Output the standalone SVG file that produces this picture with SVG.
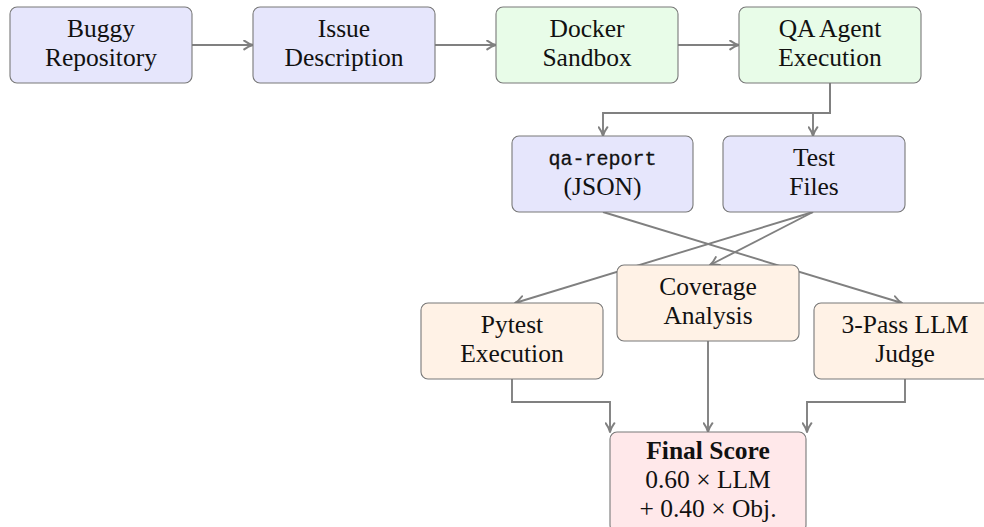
<svg xmlns="http://www.w3.org/2000/svg" width="984" height="527" viewBox="0 0 984 527">
  <style>
    .box { stroke: #787878; stroke-width: 1.1; }
    .blue { fill: #e6e6fc; }
    .green { fill: #e8fce8; }
    .orange { fill: #fff2e6; }
    .red { fill: #ffe8ea; }
    .lbl { font-family: "Liberation Serif", "Times New Roman", serif; font-size: 25.5px; fill: #111; text-anchor: middle; }
    .mono { font-family: "Liberation Mono", "Courier New", monospace; font-size: 20px; stroke: #111; stroke-width: 0.3; }
    .bold { font-weight: bold; }
    .conn { fill: none; stroke: #808080; stroke-width: 1.9; }
  </style>
  <defs>
    <marker id="arrow" viewBox="0 0 10 10" refX="9" refY="5" markerWidth="11" markerHeight="11" markerUnits="userSpaceOnUse" orient="auto">
      <path d="M1,1 Q5,4 9,5 Q5,6 1,9" fill="none" stroke="#808080" stroke-width="1.8" stroke-linecap="round" stroke-linejoin="round"/>
    </marker>
  </defs>

  <!-- connectors -->
  <g id="connectors" class="conn" marker-end="url(#arrow)">
    <path d="M192,45 H253"/>
    <path d="M435,45 H496"/>
    <path d="M678,45 H739"/>
    <path d="M830,83 V113 H603 V136"/>
    <path d="M830,83 V113 H813 V136"/>
    <path d="M603,212 L902,303"/>
    <path d="M813,212 L515,303"/>
    <path d="M813,212 L710,265"/>
    <path d="M512,379 V402 H610 V432"/>
    <path d="M708,341 V432"/>
    <path d="M905,379 V402 H807 V432"/>
  </g>

  <!-- pipeline inputs -->
  <g id="buggy-repo">
    <rect class="box blue" x="10" y="7" width="182" height="76" rx="7"/>
    <text class="lbl" x="101" y="37">Buggy</text>
    <text class="lbl" x="101" y="66">Repository</text>
  </g>
  <g id="issue-desc">
    <rect class="box blue" x="253" y="7" width="182" height="76" rx="7"/>
    <text class="lbl" x="344" y="37">Issue</text>
    <text class="lbl" x="344" y="66">Description</text>
  </g>
  <g id="docker">
    <rect class="box green" x="496" y="7" width="182" height="76" rx="7"/>
    <text class="lbl" x="587" y="37">Docker</text>
    <text class="lbl" x="587" y="66">Sandbox</text>
  </g>
  <g id="qa-agent">
    <rect class="box green" x="739" y="7" width="182" height="76" rx="7"/>
    <text class="lbl" x="830" y="37">QA Agent</text>
    <text class="lbl" x="830" y="66">Execution</text>
  </g>

  <!-- agent outputs -->
  <g id="qa-report">
    <rect class="box blue" x="512" y="136" width="181" height="76" rx="7"/>
    <text class="lbl mono" x="602.5" y="165">qa-report</text>
    <text class="lbl" x="602.5" y="195">(JSON)</text>
  </g>
  <g id="test-files">
    <rect class="box blue" x="723" y="136" width="182" height="76" rx="7"/>
    <text class="lbl" x="814" y="166">Test</text>
    <text class="lbl" x="814" y="195">Files</text>
  </g>

  <!-- evaluation stages -->
  <g id="pytest">
    <rect class="box orange" x="421" y="303" width="182" height="76" rx="7"/>
    <text class="lbl" x="512" y="333">Pytest</text>
    <text class="lbl" x="512" y="362">Execution</text>
  </g>
  <g id="coverage">
    <rect class="box orange" x="617" y="265" width="182" height="76" rx="7"/>
    <text class="lbl" x="708" y="295">Coverage</text>
    <text class="lbl" x="708" y="324">Analysis</text>
  </g>
  <g id="llm-judge">
    <rect class="box orange" x="814" y="303" width="182" height="76" rx="7"/>
    <text class="lbl" x="905" y="333">3-Pass LLM</text>
    <text class="lbl" x="905" y="362">Judge</text>
  </g>

  <!-- final score -->
  <g id="final-score">
    <rect class="box red" x="610" y="432" width="196" height="100" rx="7"/>
    <text class="lbl bold" x="708" y="459">Final Score</text>
    <text class="lbl" x="708" y="488">0.60 × LLM</text>
    <text class="lbl" x="708" y="517">+ 0.40 × Obj.</text>
  </g>
</svg>
